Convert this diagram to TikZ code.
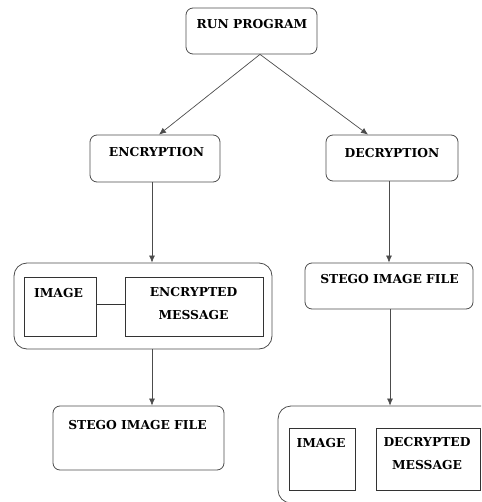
\documentclass[tikz,border=0pt]{standalone}
\usepackage{fontspec}
\setmainfont{DejaVu Serif}
\usetikzlibrary{arrows.meta}
\definecolor{linegray}{rgb}{0.3,0.3,0.3}
\begin{document}
\begin{tikzpicture}[x=1pt,y=-1pt,
  box/.style={draw=linegray, line width=0.8pt, rounded corners=7pt, inner sep=0pt},
  bigbox/.style={box, rounded corners=13pt},
  plainbox/.style={draw=black!80, line width=0.8pt, inner sep=0pt},
  lbl/.style={font=\bfseries\fontsize{12.3}{23}\selectfont, inner sep=0pt, align=center, text=black},
  conn/.style={draw=linegray, line width=0.7pt, -{Latex[length=7pt,width=6pt]}}]
\useasboundingbox (0,0) rectangle (481,502);
\clip (0,0) rectangle (481,502);
% boxes
\node[box, minimum width=131pt, minimum height=46pt] (run) at (251.5,31) {};
\node[box, minimum width=130pt, minimum height=47pt] (enc) at (155,158.5) {};
\node[box, minimum width=132pt, minimum height=46pt] (dec) at (392,158) {};
\node[bigbox, minimum width=258pt, minimum height=86pt] (encbig) at (143,306) {};
\node[plainbox, minimum width=72pt, minimum height=59pt] (img1) at (60,306.5) {};
\node[plainbox, minimum width=138pt, minimum height=59pt] (msg1) at (194,306.5) {};
\node[box, minimum width=171pt, minimum height=64pt] (stego1) at (138.5,438) {};
\node[box, minimum width=168pt, minimum height=46pt] (stego2) at (389,286) {};
\node[bigbox, minimum width=222pt, minimum height=97pt] (decbig) at (389,454.5) {};
\node[plainbox, minimum width=66pt, minimum height=62pt] (img2) at (322,459) {};
\node[plainbox, minimum width=104pt, minimum height=62pt] (msg2) at (428,459) {};
% labels
\node[lbl] (trun) at (252,24) {RUN PROGRAM};
\node[lbl] (tenc) at (156.5,152) {ENCRYPTION};
\node[lbl] (tdec) at (392,153) {DECRYPTION};
\node[lbl] (timg1) at (58.5,293) {IMAGE};
\node[lbl] (tmsg1) at (193.5,303.3) {ENCRYPTED\\MESSAGE};
\node[lbl] (tst1) at (137.5,425) {STEGO IMAGE FILE};
\node[lbl] (tst2) at (389.5,279) {STEGO IMAGE FILE};
\node[lbl] (timg2) at (321,443) {IMAGE};
\node[lbl] (tmsg2) at (427,454) {DECRYPTED\\MESSAGE};
% connectors
\draw[conn] ([xshift=8.5pt]run.south) -- ([xshift=4pt]enc.north);
\draw[conn] ([xshift=8.5pt]run.south) -- ([xshift=-24pt]dec.north);
\draw[conn] ([xshift=-3pt]enc.south) -- ([xshift=9pt]encbig.north);
\draw[conn] ([xshift=9pt]encbig.south) -- ([xshift=13.5pt]stego1.north);
\draw[conn] ([xshift=-3pt]dec.south) -- (stego2.north);
\draw[conn] ([xshift=1pt]stego2.south) -- ([xshift=1pt]decbig.north);
\draw[draw=black!80, line width=0.7pt] ([yshift=2.5pt]img1.east) -- ([yshift=2.5pt]msg1.west);
\end{tikzpicture}
\end{document}
